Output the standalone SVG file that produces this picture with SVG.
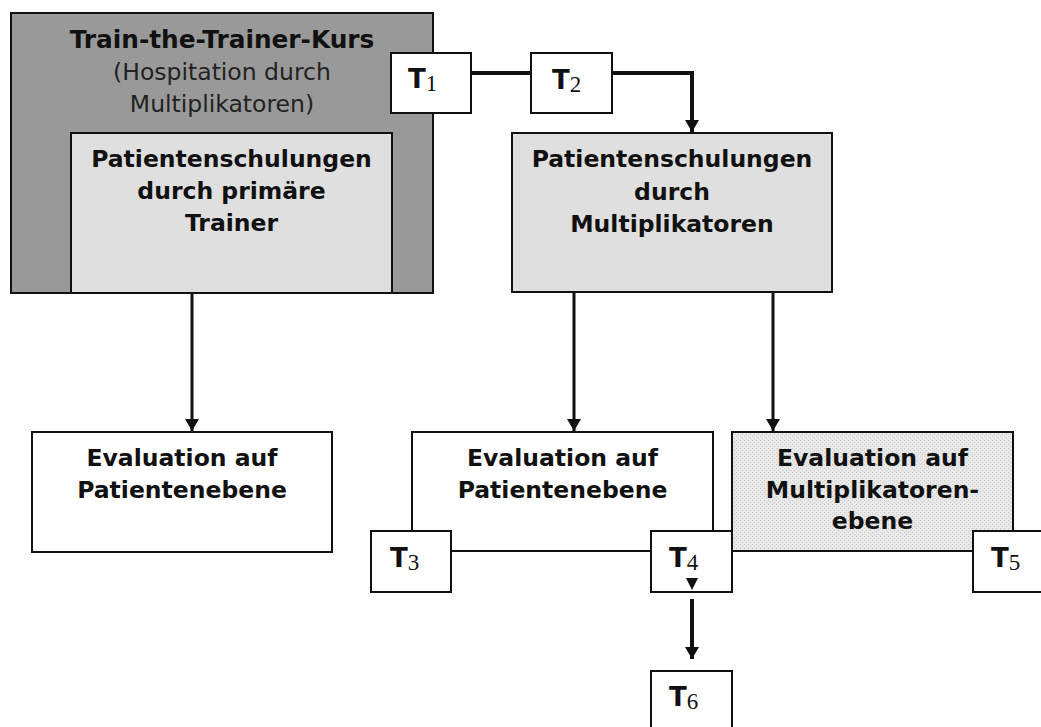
<svg xmlns="http://www.w3.org/2000/svg" width="1041" height="727" viewBox="0 0 1041 727">
<style>
.box{stroke:#111;stroke-width:2}
.b{font-family:"DejaVu Sans",Verdana,sans-serif;font-weight:bold;font-size:23.5px;fill:#111;text-anchor:middle}
.h{font-size:24.8px}
.r{font-family:"DejaVu Sans",Verdana,sans-serif;font-size:23.5px;fill:#222;text-anchor:middle}
.t{font-family:"DejaVu Sans",Verdana,sans-serif;font-weight:bold;font-size:26px;fill:#111}
.s{font-family:"Liberation Serif","DejaVu Serif",serif;font-weight:normal;font-size:23px}
.c{stroke:#111;fill:none}
</style>
<defs>
<pattern id="dots" width="4" height="4" patternUnits="userSpaceOnUse">
<rect width="4" height="4" fill="#e8e8e8"/>
<rect x="0" y="0" width="1" height="1" fill="#c8c8c8"/>
<rect x="2" y="2" width="1" height="1" fill="#c8c8c8"/>
</pattern>
<marker id="ah" markerUnits="userSpaceOnUse" markerWidth="12" markerHeight="14" refX="12" refY="7" orient="auto" viewBox="0 0 12 14">
<path d="M0,0 L12,7 L0,14 Z" fill="#111"/>
</marker>
</defs>
<rect width="1041" height="727" fill="#fff"/>

<g id="train">
<rect class="box" x="11" y="13" width="422" height="280" fill="#999"/>
<text class="b h" x="222" y="48">Train-the-Trainer-Kurs</text>
<text class="r" x="222" y="80">(Hospitation durch</text>
<text class="r" x="222" y="112">Multiplikatoren)</text>
</g>
<g id="primaer">
<rect class="box" x="71" y="133" width="321" height="160" fill="#dfdfdf"/>
<text class="b" x="231.5" y="167">Patientenschulungen</text>
<text class="b" x="231.5" y="199">durch primäre</text>
<text class="b" x="231.5" y="231">Trainer</text>
</g>
<g id="multi">
<rect class="box" x="512" y="133" width="320" height="159" fill="#dfdfdf"/>
<text class="b" x="672" y="167">Patientenschulungen</text>
<text class="b" x="672" y="200">durch</text>
<text class="b" x="672" y="232">Multiplikatoren</text>
</g>
<g id="eval1">
<rect class="box" x="32" y="432" width="300" height="120" fill="#fff"/>
<text class="b" x="182" y="466">Evaluation auf</text>
<text class="b" x="182" y="498">Patientenebene</text>
</g>
<g id="eval2">
<rect class="box" x="412" y="432" width="301" height="119" fill="#fff"/>
<text class="b" x="562.5" y="466">Evaluation auf</text>
<text class="b" x="562.5" y="498">Patientenebene</text>
</g>
<g id="eval3">
<rect class="box" x="732" y="432" width="281" height="119" fill="url(#dots)"/>
<text class="b" x="872.5" y="466">Evaluation auf</text>
<text class="b" x="872.5" y="498">Multiplikatoren-</text>
<text class="b" x="872.5" y="529">ebene</text>
</g>

<g id="connectors">
<line class="c" x1="471" y1="73" x2="531" y2="73" stroke-width="4"/>
<path class="c" d="M612,73 H692 V132" stroke-width="4" marker-end="url(#ah)"/>
<line class="c" x1="192" y1="294" x2="192" y2="431" stroke-width="3" marker-end="url(#ah)"/>
<line class="c" x1="574" y1="293" x2="574" y2="431" stroke-width="3" marker-end="url(#ah)"/>
<line class="c" x1="773" y1="293" x2="773" y2="431" stroke-width="3" marker-end="url(#ah)"/>
<line class="c" x1="692" y1="599" x2="692" y2="659" stroke-width="4" marker-end="url(#ah)"/>
</g>

<g id="t1">
<rect class="box" x="391" y="53" width="80" height="60" fill="#fff"/>
<text class="t" x="408" y="88">T<tspan class="s" dy="3">1</tspan></text>
</g>
<g id="t2">
<rect class="box" x="531" y="53" width="81" height="60" fill="#fff"/>
<text class="t" x="552" y="89">T<tspan class="s" dy="3">2</tspan></text>
</g>
<g id="t3">
<rect class="box" x="371" y="531" width="80" height="61" fill="#fff"/>
<text class="t" x="390" y="567">T<tspan class="s" dy="3">3</tspan></text>
</g>
<g id="t4">
<rect class="box" x="651" y="531" width="81" height="61" fill="#fff"/>
<text class="t" x="669" y="567">T<tspan class="s" dy="3">4</tspan></text>
<path d="M686,578 L698,578 L692,590 Z" fill="#111"/>
</g>
<g id="t5">
<rect class="box" x="973" y="531" width="80" height="61" fill="#fff"/>
<text class="t" x="991" y="567">T<tspan class="s" dy="3">5</tspan></text>
</g>
<g id="t6">
<rect class="box" x="651" y="671" width="81" height="70" fill="#fff"/>
<text class="t" x="669" y="706">T<tspan class="s" dy="3">6</tspan></text>
</g>
</svg>
